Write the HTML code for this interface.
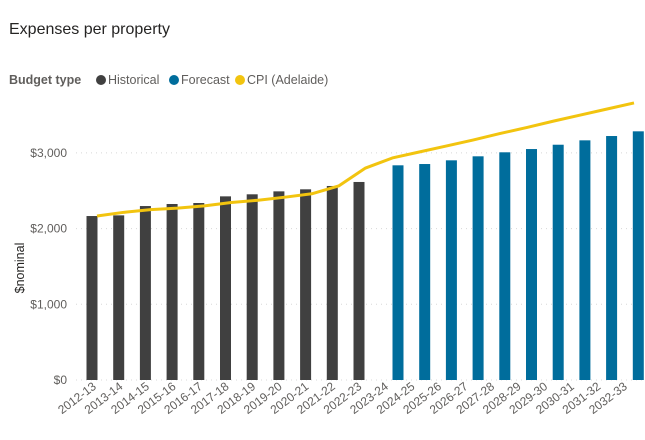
<!DOCTYPE html>
<html><head><meta charset="utf-8"><style>
body{margin:0;background:#fff;font-family:"Liberation Sans",sans-serif;}
svg text{font-family:"Liberation Sans",sans-serif;}
</style></head><body>
<svg width="645" height="435" id="chart">
<text x="9" y="34" font-size="16" fill="#252423">Expenses per property</text>
<g>
<text x="9" y="84" font-size="12.5" font-weight="bold" fill="#605e5c">Budget type</text>
<circle cx="101" cy="80" r="5" fill="#404040"/>
<text x="108" y="84" font-size="12.5" fill="#605e5c">Historical</text>
<circle cx="174" cy="80" r="5" fill="#006d9c"/>
<text x="181" y="84" font-size="12.5" fill="#605e5c">Forecast</text>
<circle cx="240" cy="80" r="5" fill="#f2c40f"/>
<text x="247" y="84" font-size="12.5" fill="#605e5c">CPI (Adelaide)</text>
</g>
<text transform="translate(24,268) rotate(-90)" text-anchor="middle" font-size="12.5" fill="#252423">$nominal</text>
<g id="grid"></g><g id="bars"></g><g id="line"></g><g id="xlab"></g>
</svg>
<script>
const categories=["2012-13","2013-14","2014-15","2015-16","2016-17","2017-18","2018-19","2019-20","2020-21","2021-22","2022-23","2023-24","2024-25","2025-26","2026-27","2027-28","2028-29","2029-30","2030-31","2031-32","2032-33"];
const historical=[2166,2175,2298,2325,2338,2426,2453,2492,2519,2563,2616];
const forecast=[2836,2853,2902,2955,3008,3051,3108,3166,3223,3285];
const cpi=[2166,2215,2250,2270,2300,2345,2375,2415,2460,2563,2800,2933,3012,3090,3170,3255,3335,3420,3500,3580,3660];
const yTicks=[0,1000,2000,3000];
const yTickLabels=["$0","$1,000","$2,000","$3,000"];
const NS="http://www.w3.org/2000/svg";
function y(v){return 380-v*0.0757;}
function xLab(i){return 97+i*26.55;}
function xHist(i){return 92+i*26.7;}
function xFc(i){return 398+i*26.7;}
function xLine(i){return 97+i*26.85;}
function mk(t,a,p){const e=document.createElementNS(NS,t);for(const k in a)e.setAttribute(k,a[k]);p.appendChild(e);return e;}
const grid=document.getElementById('grid');
yTicks.forEach((v,i)=>{
 const l=mk('line',{x1:76,x2:645,y1:y(v),y2:y(v),stroke:'#d8d8d8','stroke-dasharray':'1,4'},grid);
 
 
 const t=mk('text',{x:67,y:y(v)+4,'text-anchor':'end','font-size':'12',fill:'#605e5c'},grid);
 t.textContent=yTickLabels[i];
 
 
});
const bars=document.getElementById('bars');
historical.forEach((v,i)=>{
 const r=mk('rect',{x:xHist(i)-5.5,y:y(v),width:11,height:380-y(v),fill:'#404040'},bars);
 
 
});
forecast.forEach((v,i)=>{
 const r=mk('rect',{x:xFc(i)-5.5,y:y(v),width:11,height:380-y(v),fill:'#006d9c'},bars);
 
 
});
const p=mk('polyline',{points:cpi.map((v,i)=>xLine(i)+','+y(v)).join(' '),fill:'none',stroke:'#f2c40f','stroke-width':3,'stroke-linejoin':'round'},document.getElementById('line'));


const xl=document.getElementById('xlab');
categories.forEach((c,i)=>{
 const t=mk('text',{transform:'translate('+xLab(i)+',388) rotate(-37)','text-anchor':'end','font-size':'12',fill:'#605e5c'},xl);
 t.textContent=c;
 
 
});
</script>
</body></html>
